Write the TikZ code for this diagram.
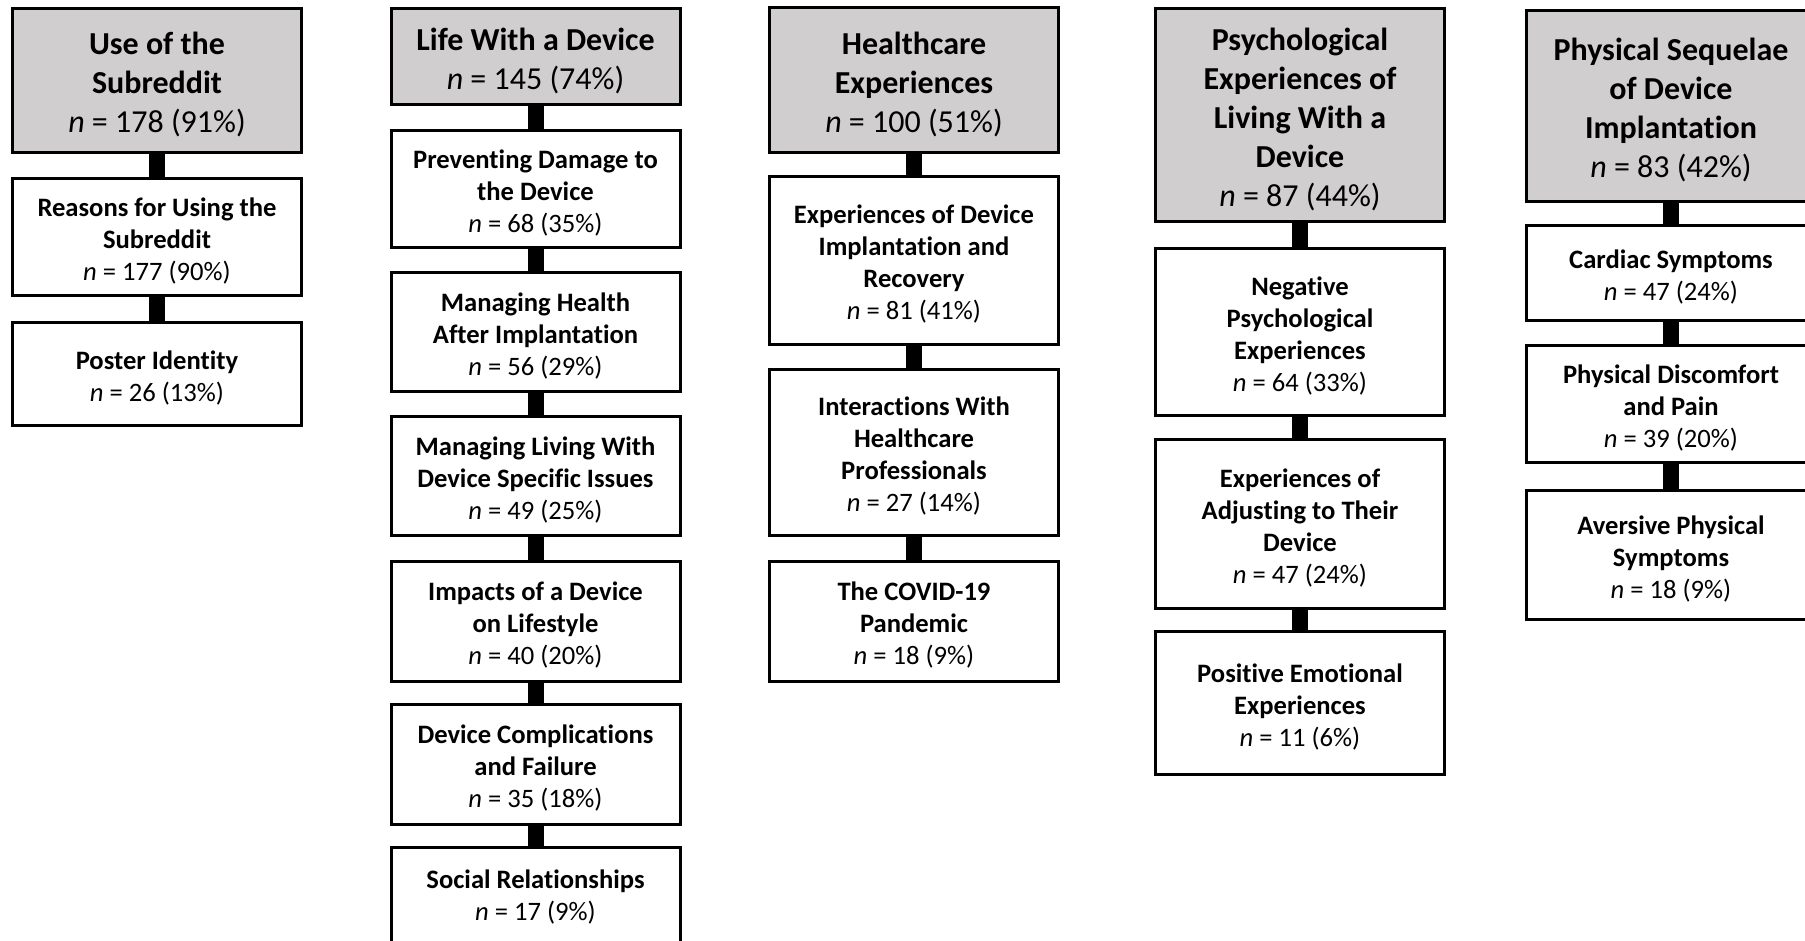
\documentclass[tikz,border=0pt]{standalone}
\usepackage{fontspec}
\setmainfont{Carlito}[Ligatures=NoCommon]
\definecolor{hdrgray}{RGB}{208,206,206}
\newcommand\nval[1]{\textit{n} = #1}
\tikzset{
  boxbase/.style={draw=black, line width=1.5pt, minimum width=144.5pt, inner sep=0pt},
  hdr/.style={boxbase, fill=hdrgray},
  sub/.style={boxbase, fill=white},
  hdrtxt/.style={align=center, inner sep=0pt, yshift=-2pt, font=\fontsize{16}{19.5}\selectfont},
  subtxt/.style={align=center, inner sep=0pt, yshift=-2pt, font=\fontsize{13.3}{16}\selectfont},
  conn/.style={line width=8pt, black},
}
\begin{document}
\begin{tikzpicture}[x=0.5pt,y=-0.5pt]
\useasboundingbox (0,0) rectangle (1805,941);
\fill[white] (0,0) rectangle (1805,941);

% Column 1: Use of the Subreddit
\node[hdr, minimum height=72pt, label={[hdrtxt, name=a0t]center:{\textbf{Use of the}\\\textbf{Subreddit}\\\nval{178 (91\%)}}}] (a0) at (157,80.5) {};
\node[sub, minimum height=58.5pt, label={[subtxt, name=a1t]center:{\textbf{Reasons for Using the}\\\textbf{Subreddit}\\\nval{177 (90\%)}}}] (a1) at (157,237) {};
\node[sub, minimum height=51.5pt, label={[subtxt, name=a2t]center:{\textbf{Poster Identity}\\\nval{26 (13\%)}}}] (a2) at (157,374) {};
\draw[conn] (a0.south) -- (a1.north);
\draw[conn] (a1.south) -- (a2.north);

% Column 2: Life With a Device
\node[hdr, minimum height=48pt, label={[hdrtxt, name=b0t]center:{\textbf{Life With a Device}\\\nval{145 (74\%)}}}] (b0) at (535.5,56.5) {};
\node[sub, minimum height=58.5pt, label={[subtxt, name=b1t]center:{\textbf{Preventing Damage to}\\\textbf{the Device}\\\nval{68 (35\%)}}}] (b1) at (535.5,189) {};
\node[sub, minimum height=59.5pt, label={[subtxt, name=b2t]center:{\textbf{Managing Health}\\\textbf{After Implantation}\\\nval{56 (29\%)}}}] (b2) at (535.5,332) {};
\node[sub, minimum height=59.5pt, label={[subtxt, name=b3t]center:{\textbf{Managing Living With}\\\textbf{Device Specific Issues}\\\nval{49 (25\%)}}}] (b3) at (535.5,476) {};
\node[sub, minimum height=60pt, label={[subtxt, name=b4t]center:{\textbf{Impacts of a Device}\\\textbf{on Lifestyle}\\\nval{40 (20\%)}}}] (b4) at (535.5,621.5) {};
\node[sub, minimum height=60pt, label={[subtxt, name=b5t]center:{\textbf{Device Complications}\\\textbf{and Failure}\\\nval{35 (18\%)}}}] (b5) at (535.5,764.5) {};
\node[sub, minimum height=50pt, label={[subtxt, yshift=2pt, name=b6t]center:{\textbf{Social Relationships}\\\nval{17 (9\%)}}}] (b6) at (535.5,897.5) {};
\foreach \u/\v in {b0/b1,b1/b2,b2/b3,b3/b4,b4/b5,b5/b6}
  \draw[conn] (\u.south) -- (\v.north);

% Column 3: Healthcare Experiences
\node[hdr, minimum height=72.5pt, label={[hdrtxt, name=c0t]center:{\textbf{Healthcare}\\\textbf{Experiences}\\\nval{100 (51\%)}}}] (c0) at (914,80) {};
\node[sub, minimum height=84pt, label={[subtxt, name=c1t]center:{\textbf{Experiences of Device}\\\textbf{Implantation and}\\\textbf{Recovery}\\\nval{81 (41\%)}}}] (c1) at (914,260.5) {};
\node[sub, minimum height=83pt, label={[subtxt, name=c2t]center:{\textbf{Interactions With}\\\textbf{Healthcare}\\\textbf{Professionals}\\\nval{27 (14\%)}}}] (c2) at (914,452.5) {};
\node[sub, minimum height=60pt, label={[subtxt, name=c3t]center:{\textbf{The COVID-19}\\\textbf{Pandemic}\\\nval{18 (9\%)}}}] (c3) at (914,621.5) {};
\foreach \u/\v in {c0/c1,c1/c2,c2/c3}
  \draw[conn] (\u.south) -- (\v.north);

% Column 4: Psychological Experiences
\node[hdr, minimum height=106.5pt, label={[hdrtxt, name=d0t]center:{\textbf{Psychological}\\\textbf{Experiences of}\\\textbf{Living With a}\\\textbf{Device}\\\nval{87 (44\%)}}}] (d0) at (1300,115) {};
\node[sub, minimum height=83.5pt, label={[subtxt, name=d1t]center:{\textbf{Negative}\\\textbf{Psychological}\\\textbf{Experiences}\\\nval{64 (33\%)}}}] (d1) at (1300,332) {};
\node[sub, minimum height=84.5pt, label={[subtxt, name=d2t]center:{\textbf{Experiences of}\\\textbf{Adjusting to Their}\\\textbf{Device}\\\nval{47 (24\%)}}}] (d2) at (1300,524) {};
\node[sub, minimum height=71.5pt, label={[subtxt, name=d3t]center:{\textbf{Positive Emotional}\\\textbf{Experiences}\\\nval{11 (6\%)}}}] (d3) at (1300,703) {};
\foreach \u/\v in {d0/d1,d1/d2,d2/d3}
  \draw[conn] (\u.south) -- (\v.north);

% Column 5: Physical Sequelae
\node[hdr, minimum height=95.5pt, label={[hdrtxt, name=e0t]center:{\textbf{Physical Sequelae}\\\textbf{of Device}\\\textbf{Implantation}\\\nval{83 (42\%)}}}] (e0) at (1671,106) {};
\node[sub, minimum height=47.5pt, label={[subtxt, name=e1t]center:{\textbf{Cardiac Symptoms}\\\nval{47 (24\%)}}}] (e1) at (1671,273) {};
\node[sub, minimum height=58.5pt, label={[subtxt, name=e2t]center:{\textbf{Physical Discomfort}\\\textbf{and Pain}\\\nval{39 (20\%)}}}] (e2) at (1671,404) {};
\node[sub, minimum height=64.5pt, label={[subtxt, name=e3t]center:{\textbf{Aversive Physical}\\\textbf{Symptoms}\\\nval{18 (9\%)}}}] (e3) at (1671,555) {};
\foreach \u/\v in {e0/e1,e1/e2,e2/e3}
  \draw[conn] (\u.south) -- (\v.north);
\end{tikzpicture}
\end{document}
